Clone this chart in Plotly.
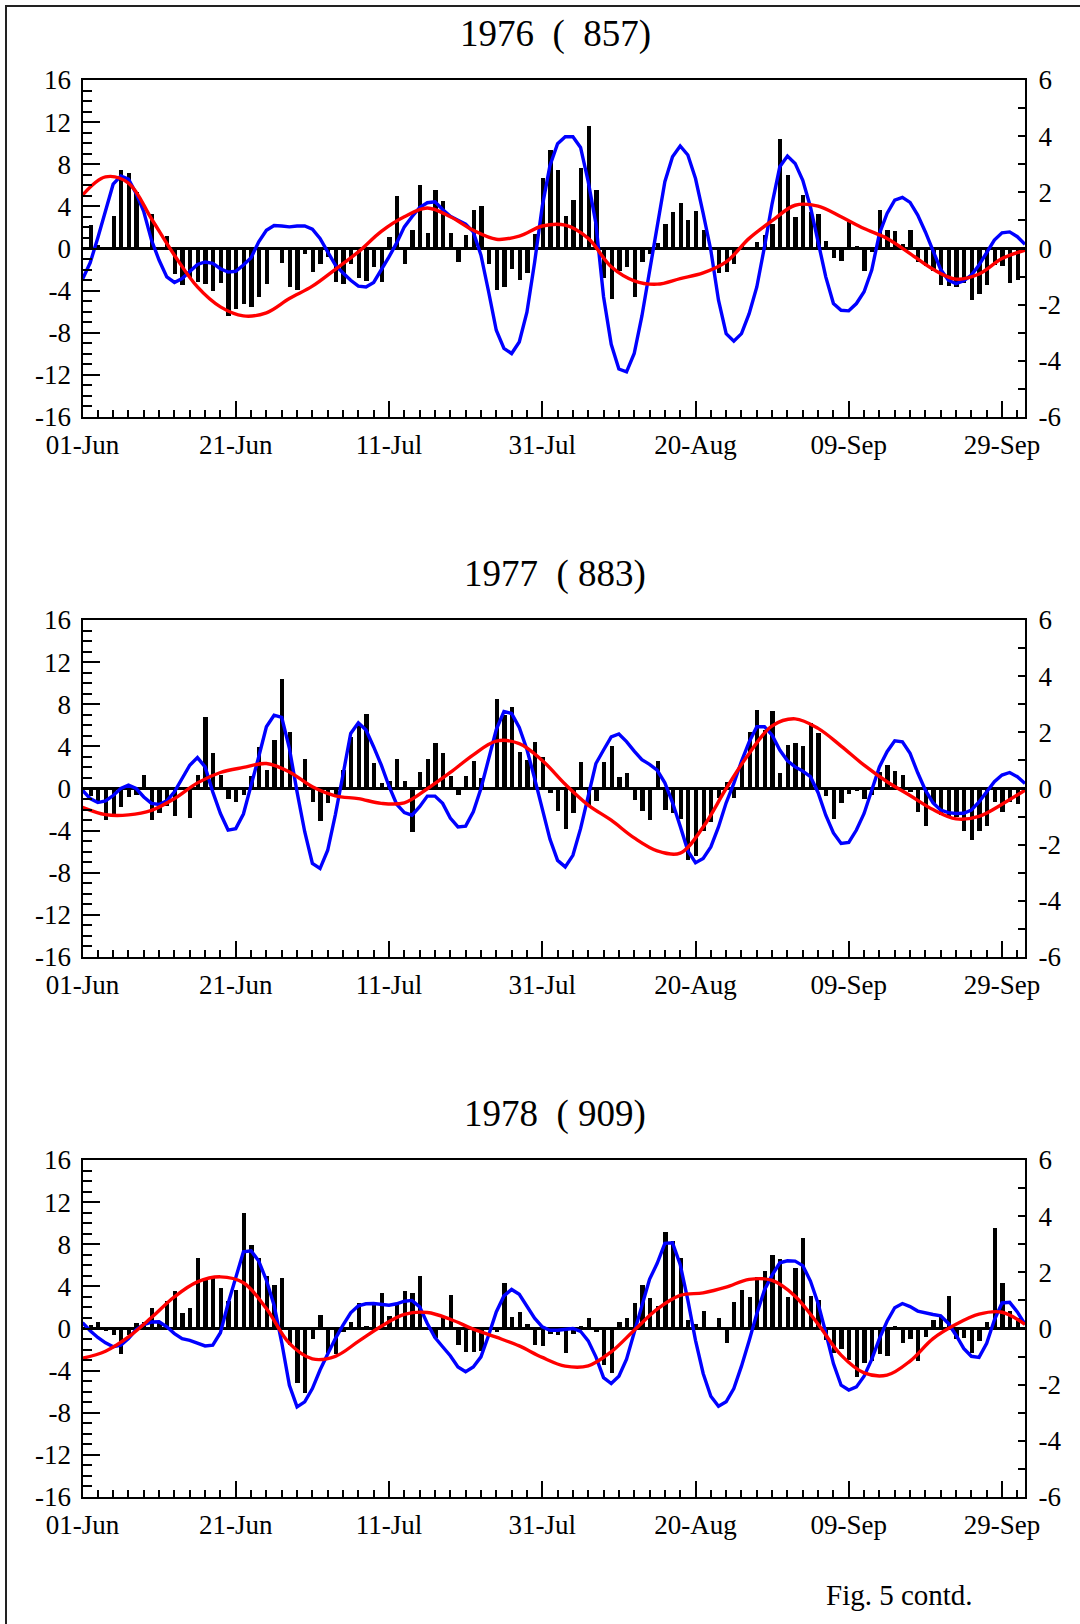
import plotly.graph_objects as go

# ---------------------------------------------------------------- data
# bar positions: one bar per day, 01-Jun .. 30-Sep
days = list(range(1, 123))
# daily points of the short-period (blue) curve
curve_days = list(range(0, 124))
# three-day points of the long-period (red) curve
red_days = list(range(0, 124, 3))

tick_days = [0, 20, 40, 60, 80, 100, 120]
tick_labels = ["01-Jun", "21-Jun", "11-Jul", "31-Jul", "20-Aug", "09-Sep", "29-Sep"]

left_ticks = [-16, -12, -8, -4, 0, 4, 8, 12, 16]
left_labels = ["-16", "-12", "-8", "-4", "0", "4", "8", "12", "16"]
right_ticks = [-6, -4, -2, 0, 2, 4, 6]
right_labels = ["-6", "-4", "-2", "0", "2", "4", "6"]

titles = ["1976\u00a0\u00a0(\u00a0\u00a0857)", "1977\u00a0\u00a0(\u00a0883)", "1978\u00a0\u00a0(\u00a0909)"]

bars_1976 = [
    2.2, 0.3, 0, 3.1, 7.5, 7.2, 5.4, 0, 3.3, 0,
    1.2, -2.4, -3.5, -2.8, -3.2, -3.4, -4.0, -3.3, -6.4, -5.7,
    -5.3, -5.6, -4.6, -3.4, 0, -1.4, -3.7, -3.9, -0.5, -2.2,
    -1.5, -0.8, -3.2, -3.4, -1.5, -2.8, -3.1, -1.8, -3.2, 1.1,
    5.0, -1.5, 1.8, 6.0, 1.5, 5.6, 4.5, 1.5, -1.3, 1.3,
    3.7, 4.0, -1.5, -3.9, -3.7, -1.9, -3.0, -2.3, 1.4, 6.7,
    9.4, 7.5, 3.1, 4.6, 7.6, 11.6, 5.6, -2.8, -4.8, -2.1,
    -1.8, -4.6, -1.3, -0.5, 0.5, 2.3, 3.5, 4.3, 2.7, 3.6,
    1.8, 0, -2.3, -2.2, -1.5, 0.2, 0, 0.6, 1.3, 2.3,
    10.4, 7.0, 3.0, 5.1, 3.5, 3.3, 0.7, -0.9, -1.2, 2.5,
    0.2, -2.1, -0.3, 3.7, 1.8, 1.7, 0.4, 1.8, -1.3, -1.7,
    -2.1, -3.5, -3.6, -3.7, -3.3, -4.9, -4.3, -3.5, -1.6, -1.7,
    -3.3, -3.0,
]
bars_1977 = [
    -0.7, -1.3, -3.0, -2.4, -1.8, -0.8, -0.6, 1.3, -3.0, -2.3,
    -1.7, -2.6, 0, -2.8, 1.3, 6.8, 3.4, 1.3, -1.0, -1.3,
    -0.6, 1.2, 3.9, 1.8, 4.6, 10.4, 5.4, 0, 2.8, -1.3,
    -3.1, -1.4, -0.8, 1.8, 4.9, 5.9, 7.1, 2.4, 0.5, 0.7,
    2.8, 0.7, -4.1, 1.6, 2.8, 4.3, 3.4, 1.2, -0.6, 1.2,
    2.6, 1.0, 0, 8.5, 7.0, 7.7, 3.5, 2.7, 4.4, 3.0,
    -0.4, -2.1, -3.8, -2.3, 2.5, -1.7, -1.2, 2.5, 4.0, 1.1,
    1.5, -1.1, -2.1, -3.0, 2.6, -2.0, -2.3, -2.9, -6.8, -6.4,
    -4.0, -3.2, -0.9, 0.6, -0.9, 2.7, 5.4, 7.5, 5.6, 7.4,
    1.5, 4.1, 4.3, 4.0, 6.2, 5.3, -0.7, -2.9, -1.4, -0.5,
    -0.2, -1.0, -0.6, 1.6, 2.2, 1.7, 1.3, -0.3, -2.2, -3.6,
    -1.4, -2.5, -2.7, -2.7, -4.0, -4.9, -4.0, -3.6, -1.3, -2.2,
    -1.3, -1.5,
]
bars_1978 = [
    0.3, 0.6, -0.2, -0.6, -2.4, -0.6, 0.5, 0.6, 1.9, 0.5,
    2.6, 3.6, 1.5, 1.9, 6.7, 4.6, 4.8, 3.8, 2.6, 3.7,
    11.0, 7.9, 6.7, 5.0, 4.1, 4.8, -1.6, -5.2, -6.1, -1.0,
    1.3, -2.3, -2.4, -0.3, 0.6, 2.4, 0.2, 2.5, 3.4, 1.2,
    2.4, 3.6, 3.4, 5.0, 0, -0.9, 1.1, 3.2, -1.6, -2.2,
    -2.2, -2.1, 0, -0.3, 4.3, 1.1, 1.6, 0.4, -1.6, -1.7,
    -0.5, -0.6, -2.3, -0.5, 0.2, 1.0, -0.3, -3.5, -4.2, 0.6,
    1.0, 2.4, 4.1, 2.9, 2.1, 9.2, 8.3, 6.7, 0.8, 0.4,
    1.7, -0.15, 1.0, -1.4, 2.5, 3.7, 3.0, 4.9, 5.5, 7.0,
    6.6, 3.0, 5.7, 8.6, 3.1, 2.7, -1.1, -2.3, -1.9, -3.0,
    -4.6, -3.3, -3.1, -2.4, -2.6, 0.25, -1.4, -1.0, -3.1, -0.8,
    0.8, 1.1, 3.1, -0.95, -0.9, -2.3, -1.2, 0.6, 9.5, 4.3,
    1.7, 1.0,
]

blue_1976 = [
    -1.10, -0.51, 0.38, 1.39, 2.29, 2.58, 2.47, 1.96, 1.31, 0.30,
    -0.42, -1.01, -1.21, -1.07, -0.81, -0.57, -0.48, -0.53, -0.72, -0.84,
    -0.81, -0.59, -0.33, 0.24, 0.65, 0.82, 0.80, 0.77, 0.80, 0.80,
    0.69, 0.36, -0.12, -0.59, -0.87, -1.13, -1.34, -1.37, -1.21, -0.77,
    -0.30, 0.20, 0.77, 1.13, 1.46, 1.63, 1.66, 1.39, 1.15, 1.01,
    0.87, 0.59, -0.24, -1.54, -2.91, -3.56, -3.74, -3.33, -2.27, -0.50,
    1.50, 2.95, 3.73, 3.98, 3.98, 3.60, 2.38, 0.89, -1.72, -3.41,
    -4.29, -4.39, -3.74, -2.41, -0.77, 0.83, 2.38, 3.27, 3.65, 3.33,
    2.49, 1.25, -0.06, -1.84, -3.03, -3.30, -3.03, -2.32, -1.37, 0.06,
    1.60, 2.91, 3.29, 3.03, 2.43, 1.48, 0.24, -1.01, -1.96, -2.20,
    -2.22, -1.96, -1.54, -0.77, 0.53, 1.25, 1.72, 1.82, 1.64, 1.19,
    0.59, -0.12, -0.75, -1.13, -1.25, -1.15, -0.95, -0.59, -0.12, 0.30,
    0.56, 0.59, 0.42, 0.15,
]
blue_1977 = [
    -0.06, -0.36, -0.50, -0.44, -0.25, 0.00, 0.12, 0.00, -0.30, -0.53,
    -0.57, -0.44, -0.12, 0.37, 0.83, 1.10, 0.77, -0.12, -0.89, -1.48,
    -1.43, -0.91, 0.06, 1.13, 2.20, 2.61, 2.53, 1.43, -0.12, -1.54,
    -2.67, -2.85, -2.20, -0.93, 0.50, 1.96, 2.34, 2.08, 1.48, 0.83,
    0.08, -0.56, -0.86, -0.95, -0.65, -0.27, -0.27, -0.53, -1.05, -1.37,
    -1.34, -0.83, 0.00, 1.05, 2.10, 2.74, 2.67, 2.17, 1.39, 0.36,
    -0.71, -1.80, -2.56, -2.79, -2.38, -1.43, -0.27, 0.89, 1.37, 1.84,
    1.94, 1.67, 1.33, 1.03, 0.86, 0.65, 0.20, -0.50, -1.34, -2.22,
    -2.64, -2.49, -2.08, -1.37, -0.51, 0.18, 0.97, 1.66, 2.20, 2.20,
    1.90, 1.37, 0.99, 0.77, 0.62, 0.42, -0.15, -0.95, -1.58, -1.96,
    -1.92, -1.48, -0.89, -0.06, 0.77, 1.31, 1.70, 1.66, 1.25, 0.56,
    -0.06, -0.51, -0.77, -0.86, -0.89, -0.88, -0.77, -0.48, -0.12, 0.24,
    0.48, 0.57, 0.42, 0.18,
]
blue_1978 = [
    0.21, -0.08, -0.32, -0.51, -0.65, -0.59, -0.36, -0.04, 0.14, 0.23,
    0.24, 0.06, -0.18, -0.36, -0.42, -0.51, -0.62, -0.59, -0.15, 0.89,
    1.86, 2.73, 2.77, 2.40, 1.72, 0.83, -0.50, -2.02, -2.79, -2.61,
    -2.14, -1.48, -0.91, -0.36, 0.12, 0.56, 0.81, 0.88, 0.89, 0.87,
    0.83, 0.88, 0.97, 1.00, 0.77, 0.18, -0.32, -0.65, -0.97, -1.37,
    -1.54, -1.37, -1.01, -0.24, 0.59, 1.16, 1.39, 1.22, 0.82, 0.37,
    0.06, -0.06, -0.06, -0.02, 0.00, -0.10, -0.44, -1.01, -1.75, -1.96,
    -1.70, -1.09, -0.15, 0.87, 1.75, 2.32, 3.03, 3.05, 2.28, 1.01,
    -0.42, -1.60, -2.41, -2.77, -2.61, -2.14, -1.34, -0.44, 0.53, 1.37,
    1.90, 2.34, 2.41, 2.40, 2.24, 1.69, 0.89, -0.15, -1.25, -2.02,
    -2.19, -2.08, -1.70, -1.10, -0.36, 0.26, 0.74, 0.89, 0.78, 0.62,
    0.55, 0.50, 0.45, 0.18, -0.24, -0.71, -0.99, -1.03, -0.53, 0.30,
    0.91, 0.93, 0.59, 0.15,
]

red_1976 = [
    1.90, 2.55, 2.33, 1.06, -0.24, -1.37, -2.08, -2.40, -2.29, -1.78,
    -1.34, -0.74, -0.12, 0.61, 1.13, 1.44, 1.13, 0.65, 0.33, 0.44,
    0.80, 0.83, 0.36, -0.65, -1.15, -1.27, -1.07, -0.87, -0.48, 0.36,
    0.99, 1.54, 1.51, 1.13, 0.71, 0.36, -0.18, -0.74, -1.09, -0.91,
    -0.36, -0.06,
]
red_1977 = [
    -0.67, -0.93, -0.94, -0.78, -0.36, 0.20, 0.57, 0.75, 0.89, 0.59,
    0.06, -0.26, -0.36, -0.53, -0.51, -0.01, 0.57, 1.20, 1.69, 1.60,
    1.00, 0.15, -0.59, -1.13, -1.76, -2.22, -2.30, -1.37, 0.00, 1.25,
    2.23, 2.48, 2.14, 1.51, 0.83, 0.24, -0.25, -0.75, -1.08, -0.99,
    -0.56, -0.06,
]
red_1978 = [
    -1.06, -0.81, -0.30, 0.39, 1.13, 1.66, 1.84, 1.63, 0.71, -0.53,
    -1.08, -0.99, -0.46, 0.08, 0.50, 0.57, 0.33, -0.02, -0.31, -0.62,
    -1.03, -1.34, -1.33, -0.83, -0.06, 0.69, 1.18, 1.27, 1.47, 1.75,
    1.71, 1.15, 0.15, -0.95, -1.58, -1.66, -1.16, -0.36, 0.15, 0.51,
    0.58, 0.15,
]

bars_all = [bars_1976, bars_1977, bars_1978]
blue_all = [blue_1976, blue_1977, blue_1978]
red_all = [red_1976, red_1977, red_1978]

# ---------------------------------------------------------------- layout geometry (pixels)
W, H = 1080, 1624
PLOT_L, PLOT_R = 82.5, 1025
PANEL_TOPS = [80, 620, 1160]
PANEL_H = 337
TITLE_Y = [34, 574, 1114]
FONT = "Liberation Serif, Times New Roman, serif"
BLACK = "black"


def px_x(v):
    return v / W


def px_y(v):
    return 1 - v / H


fig = go.Figure()
layout = dict(
    width=W, height=H, autosize=False,
    margin=dict(l=0, r=0, t=0, b=0, pad=0),
    paper_bgcolor="white", plot_bgcolor="white",
    showlegend=False,
    bargap=0,
    font=dict(family=FONT, color=BLACK, size=27),
    annotations=[], shapes=[],
)

tick_font = dict(family=FONT, size=27, color=BLACK)

for i in range(3):
    n = i + 1
    xa = "x" if n == 1 else f"x{n}"
    ya_left = "y" if n == 1 else f"y{2 * n - 1}"
    ya_right = f"y{2 * n}"
    top = PANEL_TOPS[i]
    ydom = [px_y(top + PANEL_H), px_y(top)]

    layout["xaxis" if n == 1 else f"xaxis{n}"] = dict(
        domain=[px_x(PLOT_L), px_x(PLOT_R)], range=[0, 123],
        anchor=ya_left, automargin=False,
        tickmode="array", tickvals=tick_days, ticktext=tick_labels,
        ticks="inside", ticklen=16, tickwidth=2, tickcolor=BLACK,
        minor=dict(tickmode="linear", tick0=0, dtick=2, ticks="inside",
                   ticklen=7, tickwidth=2, tickcolor=BLACK, showgrid=False),
        showline=True, linewidth=2, linecolor=BLACK, mirror=True,
        showgrid=False, zeroline=False,
        tickfont=tick_font, ticklabelstandoff=3,
    )
    layout["yaxis" if n == 1 else f"yaxis{2 * n - 1}"] = dict(
        domain=ydom, range=[-16, 16], anchor=xa, automargin=False,
        tickmode="array", tickvals=left_ticks, ticktext=left_labels,
        ticks="inside", ticklen=17, tickwidth=2, tickcolor=BLACK,
        minor=dict(tickmode="linear", tick0=-16, dtick=1, ticks="inside",
                   ticklen=9, tickwidth=2, tickcolor=BLACK, showgrid=False),
        showline=True, linewidth=2, linecolor=BLACK,
        showgrid=False, zeroline=True, zerolinecolor=BLACK, zerolinewidth=3,
        tickfont=tick_font, ticklabelstandoff=4,
    )
    layout[f"yaxis{2 * n}"] = dict(
        range=[-6, 6], anchor=xa, overlaying=ya_left, side="right",
        automargin=False,
        tickmode="array", tickvals=right_ticks, ticktext=right_labels,
        ticks="inside", ticklen=7, tickwidth=2, tickcolor=BLACK,
        minor=dict(tickmode="linear", tick0=-6, dtick=1, ticks="inside",
                   ticklen=7, tickwidth=2, tickcolor=BLACK, showgrid=False),
        showline=True, linewidth=2, linecolor=BLACK,
        showgrid=False, zeroline=False,
        tickfont=tick_font, ticklabelstandoff=6,
    )

    fig.add_trace(go.Bar(
        x=days, y=bars_all[i], width=0.56,
        marker=dict(color=BLACK, line=dict(width=0)),
        xaxis=xa, yaxis=ya_left, hoverinfo="x+y",
    ))
    fig.add_trace(go.Scatter(
        x=curve_days, y=blue_all[i], mode="lines",
        line=dict(color="#0000ff", width=3.4),
        xaxis=xa, yaxis=ya_right,
    ))
    fig.add_trace(go.Scatter(
        x=red_days, y=red_all[i], mode="lines",
        line=dict(color="#ff0000", width=3.4, shape="spline", smoothing=1.0),
        xaxis=xa, yaxis=ya_right,
    ))

    layout["annotations"].append(dict(
        text=titles[i], x=px_x(555), y=px_y(TITLE_Y[i]),
        xref="paper", yref="paper", xanchor="center", yanchor="middle",
        showarrow=False, font=dict(family=FONT, size=37, color=BLACK),
    ))

layout["annotations"].append(dict(
    text="Fig. 5 contd.", x=px_x(899), y=px_y(1595),
    xref="paper", yref="paper", xanchor="center", yanchor="middle",
    showarrow=False, font=dict(family=FONT, size=29, color=BLACK),
))

# page frame (left and top edges fall inside the page)
layout["shapes"].append(dict(
    type="rect", xref="paper", yref="paper",
    x0=px_x(6), x1=1.05, y0=-0.05, y1=px_y(6),
    line=dict(color="#222222", width=2), fillcolor="rgba(0,0,0,0)", layer="above",
))

fig.update_layout(**layout)
fig.write_html("out.html")
